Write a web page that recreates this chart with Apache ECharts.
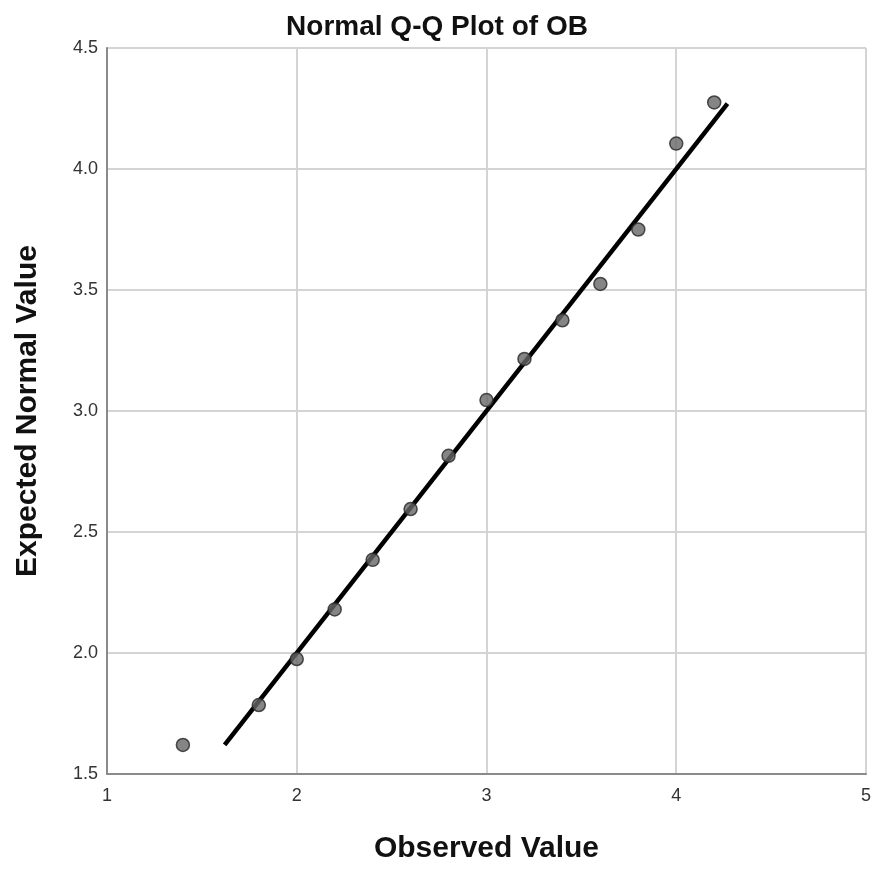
<!DOCTYPE html>
<html>
<head>
<meta charset="utf-8">
<script src="https://cdn.jsdelivr.net/npm/echarts@6/dist/echarts.min.js"></script>
<style>
  html, body { margin: 0; padding: 0; background: #fff; }
  #main { width: 874px; height: 869px; }
</style>
</head>
<body>
<div id="main"></div>
<script>
var observed = [1.4, 1.8, 2.0, 2.2, 2.4, 2.6, 2.8, 3.0, 3.2, 3.4, 3.6, 3.8, 4.0, 4.2];
var expected = [1.62, 1.785, 1.975, 2.18, 2.385, 2.595, 2.815, 3.045, 3.215, 3.375, 3.525, 3.75, 4.105, 4.275];
// reference line y = x across the expected range
var refLineX = [1.62, 4.27];
var refLineY = [1.62, 4.27];

var myChart = echarts.init(document.getElementById('main'));

var points = observed.map(function (x, i) { return [x, expected[i]]; });
var line = refLineX.map(function (x, i) { return [x, refLineY[i]]; });

myChart.setOption({
  animation: false,
  backgroundColor: '#fff',
  title: {
    text: 'Normal Q-Q Plot of OB',
    left: 'center',
    top: 8,
    textStyle: {
      fontFamily: 'Liberation Sans',
      fontSize: 28,
      fontWeight: 'bold',
      color: '#111'
    }
  },
  grid: {
    left: 107,
    right: 8,
    top: 48,
    bottom: 89
  },
  xAxis: {
    type: 'value',
    min: 1,
    max: 5,
    interval: 1,
    name: 'Observed Value',
    nameLocation: 'middle',
    nameGap: 60,
    nameTextStyle: {
      fontFamily: 'Liberation Sans',
      fontSize: 30,
      fontWeight: 'bold',
      color: '#111'
    },
    axisLine: { lineStyle: { color: '#8a8a8a', width: 2 } },
    axisTick: { show: false },
    axisLabel: {
      margin: 13,
      fontFamily: 'Liberation Sans',
      fontSize: 18,
      color: '#333'
    },
    splitLine: { show: true, lineStyle: { color: '#d4d4d4', width: 2 } }
  },
  yAxis: {
    type: 'value',
    min: 1.5,
    max: 4.5,
    interval: 0.5,
    name: 'Expected Normal Value',
    nameLocation: 'middle',
    nameGap: 64,
    nameTextStyle: {
      fontFamily: 'Liberation Sans',
      fontSize: 30,
      fontWeight: 'bold',
      color: '#111'
    },
    axisLine: { show: true, lineStyle: { color: '#8a8a8a', width: 2 } },
    axisTick: { show: false },
    axisLabel: {
      margin: 9,
      fontFamily: 'Liberation Sans',
      fontSize: 18,
      color: '#333',
      formatter: function (v) { return v.toFixed(1); }
    },
    splitLine: { show: true, lineStyle: { color: '#d4d4d4', width: 2 } }
  },
  series: [
    {
      type: 'line',
      data: line,
      symbol: 'none',
      lineStyle: { color: '#000', width: 4.5 },
      z: 2
    },
    {
      type: 'scatter',
      data: points,
      symbolSize: 13,
      itemStyle: {
        color: '#666',
        borderColor: '#262626',
        borderWidth: 1.5
      },
      z: 3
    }
  ]
});
</script>
</body>
</html>
